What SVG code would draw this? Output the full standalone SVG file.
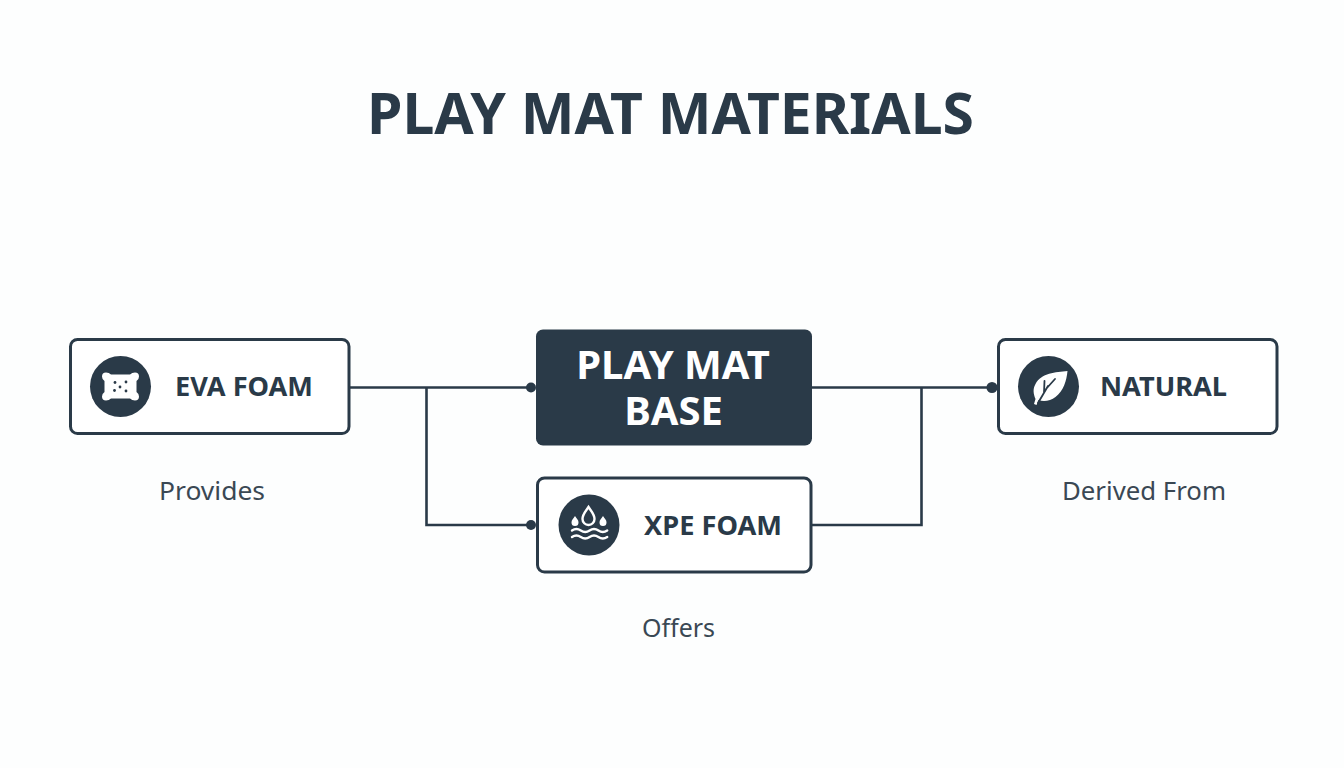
<svg xmlns="http://www.w3.org/2000/svg" width="1344" height="768" viewBox="0 0 1344 768">
<style>
text{font-family:"Noto Sans","Open Sans","Liberation Sans",sans-serif;fill:#2a3a48}
.t{font-weight:700;font-size:27.500px;text-anchor:middle}
.c{font-size:26px;text-anchor:middle;fill:#3a4854}
.b{font-weight:700;font-size:40px;fill:#fff;text-anchor:middle}
.box{fill:#fff;stroke:#2a3a48;stroke-width:3}
.ln{fill:none;stroke:#2a3a48;stroke-width:2.6}
.ic{fill:#fff}
.is{fill:none;stroke:#fff;stroke-width:2.400;stroke-linecap:round}
</style>
<rect width="1344" height="768" fill="#fdfefe"/>
<text id="title" x="670.500" y="134" text-anchor="middle" textLength="607" lengthAdjust="spacingAndGlyphs" style="font-weight:700;font-size:57.400px">PLAY MAT MATERIALS</text>
<g id="connectors">
<path class="ln" d="M349 387.500H531"/>
<path class="ln" d="M426.500 387.500V525H531"/>
<path class="ln" d="M811 387.500H992"/>
<path class="ln" d="M811 525H921.500V387.500"/>
<circle cx="531" cy="387.500" r="5" fill="#2a3a48"/>
<circle cx="531" cy="525" r="5" fill="#2a3a48"/>
<circle cx="992" cy="387.500" r="5.500" fill="#2a3a48"/>
</g>
<g id="eva">
<rect class="box" x="70.500" y="339.500" width="278.500" height="94" rx="7"/>
<circle cx="120.500" cy="386.500" r="30.500" fill="#2a3a48"/>
<path class="ic" d="M102 376.500q0-4 4-4q3 0 5 2h19q2-2 5-2q4 0 4 4q0 3-2.500 4.500v11q2.500 1.500 2.500 4.500q0 4-4 4q-3 0-5-2h-19q-2 2-5 2q-4 0-4-4q0-3 2.500-4.500v-11q-2.500-1.500-2.500-4.500z"/>
<g fill="#2a3a48"><circle cx="115" cy="382.500" r="1.400"/><circle cx="126" cy="382" r="1.400"/><circle cx="120" cy="387" r="1.400"/><circle cx="114.500" cy="390.500" r="1.400"/><circle cx="126" cy="391" r="1.400"/></g>
<text x="244" y="396" class="t" textLength="138" lengthAdjust="spacingAndGlyphs">EVA FOAM</text>
</g>
<g id="base">
<rect x="536" y="329.500" width="276" height="116" rx="7" fill="#2a3a48"/>
<text class="b"><tspan x="673" y="379">PLAY MAT</tspan><tspan x="673.500" y="425">BASE</tspan></text>
</g>
<g id="natural">
<rect class="box" x="998.500" y="339.500" width="278.500" height="94" rx="7"/>
<circle cx="1048.500" cy="386.500" r="30.500" fill="#2a3a48"/>
<path class="ic" d="M1067.500 371c-12 1-26 2-32 13c-3 5-2 10 0 15l-1.500 5l2.500 1l2-5c5 2 12 1 17-3c8-6 11-16 12-26z"/>
<path d="M1038 403L1048 386M1044 392.500L1044.500 381M1046 389L1055 379" fill="none" stroke="#2a3a48" stroke-width="1.800" stroke-linecap="round"/>
<text x="1163.500" y="396" class="t" textLength="127" lengthAdjust="spacingAndGlyphs">NATURAL</text>
</g>
<g id="xpe">
<rect class="box" x="537.500" y="478" width="273.500" height="94" rx="7"/>
<circle cx="589" cy="525" r="30.500" fill="#2a3a48"/>
<path class="is" d="M588.500 507c-2.500 4-6 7-6 12a6 6 0 0 0 12 0c0-5-3.500-8-6-12z"/>
<path class="ic" d="M575 516c-2 3-3.500 4-3.500 6.500a3.500 3.500 0 0 0 7 0c0-2.500-1.500-3.500-3.500-6.500zM603 516c-2 3-3.500 4-3.500 6.500a3.500 3.500 0 0 0 7 0c0-2.500-1.500-3.500-3.500-6.500z"/>
<path class="is" d="M572 530.500q4.400-3 8.800 0t8.800 0t8.800 0t8.800 0M572 537q4.400-3 8.800 0t8.800 0t8.800 0t8.800 0"/>
<text x="713" y="535" class="t" textLength="138" lengthAdjust="spacingAndGlyphs">XPE FOAM</text>
</g>
<g id="captions">
<text x="212" y="500" class="c" textLength="106" lengthAdjust="spacingAndGlyphs">Provides</text>
<text x="1144" y="500" class="c" textLength="164" lengthAdjust="spacingAndGlyphs">Derived From</text>
<text x="678.500" y="637" class="c" textLength="73" lengthAdjust="spacingAndGlyphs">Offers</text>
</g>
</svg>
